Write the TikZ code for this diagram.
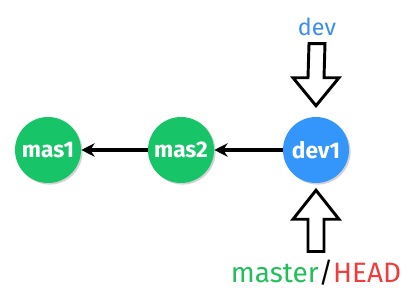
\documentclass[tikz,border=0pt]{standalone}
\usepackage{fontspec}
\setmainfont{Fira Sans}
\definecolor{commitgreen}{RGB}{24, 196, 104}
\definecolor{commitblue}{RGB}{52, 150, 250}
\definecolor{labelblue}{RGB}{60, 140, 240}
\definecolor{labelgreen}{RGB}{34, 190, 90}
\definecolor{labelred}{RGB}{240, 60, 60}
\usepackage{tikz}
\usetikzlibrary{arrows.meta, calc, shadows}

\begin{document}
\begin{tikzpicture}[x=0.75pt, y=0.75pt,
    commit/.style={circle, minimum size=49.5pt, inner sep=0pt, text=white,
      font=\fontsize{17}{17}\selectfont\bfseries,
      drop shadow={shadow xshift=1.2pt, shadow yshift=-1.2pt, fill=black!35}},
    parent/.style={-{Stealth[length=10pt, width=10pt]}, line width=2.4pt},
    bigarrow/.style={draw=black, fill=white, line width=2.2pt, line join=miter}]
  \useasboundingbox (0,0) rectangle (417,295);
  % Commits
  \node[commit, fill=commitgreen] (mas1) at (48,145) {mas1};
  \node[commit, fill=commitgreen] (mas2) at (181,145) {mas2};
  \node[commit, fill=commitblue] (dev1) at (316,145) {dev1};
  % Parent links
  \draw[parent] (mas2) -- (mas1);
  \draw[parent] (dev1) -- (mas2);
  % Branch labels
  \node[font=\fontsize{17.5}{17.5}\selectfont, text=labelblue] (devlabel) at (317,268) {dev};
  \node[font=\fontsize{21}{21}\selectfont] (headlabel) at (316,22)
    {\textcolor{labelgreen}{master}/\textcolor{labelred}{HEAD}};
  % Pointer arrows
  \coordinate (toptip) at ($(dev1.north)+(0,11)$);
  \draw[bigarrow] ($(devlabel.south)+(-8,-3)$) -- ($(devlabel.south)+(8,-3)$)
    -- ($(toptip)+(8,28)$) -- ($(toptip)+(23,28)$) -- (toptip)
    -- ($(toptip)+(-23,28)$) -- ($(toptip)+(-8,28)$) -- cycle;
  \coordinate (bottip) at ($(dev1.south)+(0,-7)$);
  \draw[bigarrow] ($(headlabel.north)+(-8,4)$) -- ($(headlabel.north)+(8,4)$)
    -- ($(bottip)+(8,-29)$) -- ($(bottip)+(23,-29)$) -- (bottip)
    -- ($(bottip)+(-23,-29)$) -- ($(bottip)+(-8,-29)$) -- cycle;
\end{tikzpicture}
\end{document}
